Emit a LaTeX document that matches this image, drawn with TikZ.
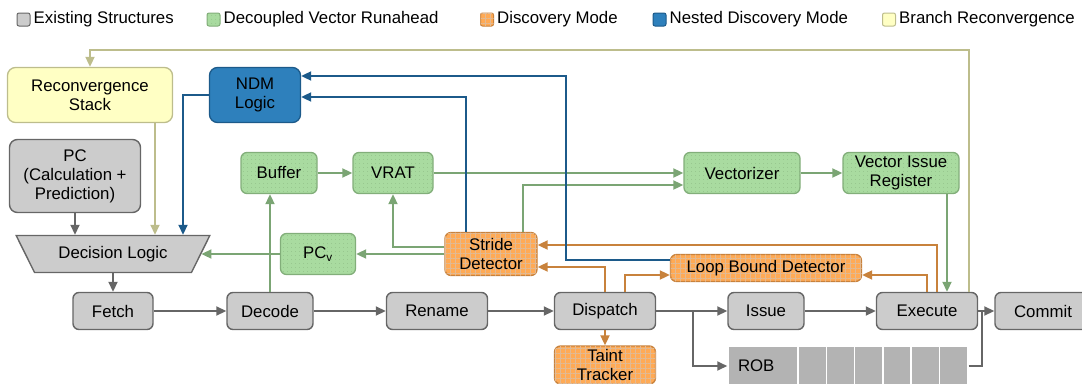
\documentclass[tikz,border=0pt]{standalone}
\usepackage{fontspec}
\setmainfont{Liberation Sans}
\usepackage{tikz}
\usetikzlibrary{arrows.meta,positioning,shapes.geometric,patterns.meta}

\definecolor{grayfill}{HTML}{CCCCCC}
\definecolor{graydraw}{HTML}{666666}
\definecolor{grnfill}{HTML}{A9DBA0}
\definecolor{grndraw}{HTML}{82AE7A}
\definecolor{orgfill}{HTML}{FFAA55}
\definecolor{orgdraw}{HTML}{C8823C}
\definecolor{blufill}{HTML}{2E80BC}
\definecolor{bludraw}{HTML}{1C5A8A}
\definecolor{ylwfill}{HTML}{FFFFC4}
\definecolor{ylwdraw}{HTML}{BDBD8C}
\definecolor{robfill}{HTML}{B3B3B3}

\begin{document}
\begin{tikzpicture}[x=1pt,y=-1pt,>={Triangle[length=10pt,width=9pt]},
		font=\fontsize{16.8pt}{19pt}\selectfont]
		\tikzstyle{every node}=[align=center,inner sep=2pt]
		\tikzstyle{exist}=[draw=graydraw,fill=grayfill,rounded corners=6pt,line width=1.4pt]
		\tikzstyle{dvr}=[draw=grndraw,fill=grnfill,rounded corners=6pt,line width=1.3pt,
			postaction={pattern color=grndraw,pattern={Dots[distance=4pt,radius=0.4pt]}}]
		\tikzstyle{disc}=[draw=orgdraw,fill=orgfill,rounded corners=6pt,line width=1.3pt,
			postaction={pattern color=orgdraw!55,pattern={Hatch[distance=5pt,line width=0.35pt]}}]
		\tikzstyle{ndmst}=[draw=bludraw,fill=blufill,rounded corners=8pt,line width=1.3pt]
		\tikzstyle{brst}=[draw=ylwdraw,fill=ylwfill,rounded corners=8pt,line width=1.3pt]
		\tikzstyle{legbox}=[minimum size=13pt,inner sep=0pt,rounded corners=2pt,line width=1pt]
		\tikzstyle{legtext}=[inner sep=0pt]
		\tikzstyle{robcell}=[rectangle,fill=robfill,draw=white,line width=1.5pt,minimum height=40pt,inner sep=0pt]
		\tikzstyle{grayln}=[draw=graydraw,line width=1.8pt]
		\tikzstyle{grnln}=[draw=grndraw!95!black,line width=1.8pt]
		\tikzstyle{orgln}=[draw=orgdraw,line width=1.8pt]
		\tikzstyle{bluln}=[draw=bludraw,line width=1.8pt]
		\tikzstyle{ylwln}=[draw=ylwdraw,line width=1.8pt]
		
		\useasboundingbox (0,0) rectangle (1082,383);
		
		\node[exist,legbox] (lgex) at (23.5,19.5) {};
		\node[legtext,right=3pt of lgex] {Existing Structures};
		\node[dvr,legbox] (lgdvr) at (213.5,19.5) {};
		\node[legtext,right=3pt of lgdvr] {Decoupled Vector Runahead};
		\node[disc,legbox] (lgdisc) at (487,19.5) {};
		\node[legtext,right=3pt of lgdisc] {Discovery Mode};
		\node[ndmst,legbox] (lgndm) at (659.5,19.5) {};
		\node[legtext,right=3pt of lgndm] {Nested Discovery Mode};
		\node[brst,legbox] (lgbr) at (889,19.5) {};
		\node[legtext,right=3pt of lgbr] {Branch Reconvergence};
		
		\node[brst,minimum width=165pt,minimum height=55pt] (recstack) at (90,95) {Reconvergence\\Stack};
		\node[ndmst,minimum width=91pt,minimum height=55pt] (ndm) at (255,95) {NDM\\Logic};
		\node[exist,rounded corners=8pt,minimum width=131pt,minimum height=73pt] (pc) at (75,176) {PC\\(Calculation +\\Prediction)};
		\node[exist,sharp corners,trapezium,trapezium angle=56,shape border rotate=180,trapezium stretches=true,
			minimum width=194pt,minimum height=37pt] (dl) at (113,254) {Decision Logic};
		
		\node[exist,minimum width=80pt,minimum height=37pt] (fetch) at (113,311) {Fetch};
		\node[exist,minimum width=86pt,minimum height=37pt] (decode) at (270,311) {Decode};
		\node[exist,minimum width=101pt,minimum height=37pt] (rename) at (437,311) {Rename};
		\node[exist,minimum width=101pt,minimum height=37pt] (dispatch) at (605,311) {Dispatch};
		\node[exist,minimum width=76pt,minimum height=37pt] (issue) at (766,311) {Issue};
		\node[exist,minimum width=101pt,minimum height=37pt] (execute) at (927,311) {Execute};
		\node[exist,minimum width=96pt,minimum height=37pt] (commit) at (1043,311) {Commit};
		
		\node[robcell,minimum width=70pt,text width=50pt,align=left] (rob) at (763,366) {ROB};
		\foreach \i in {1,...,6}
			\node[robcell,minimum width=28.3pt] (rob\i) at ({798+28.3*\i-14.15},366) {};
		
		\node[disc,minimum width=101pt,minimum height=38pt] (taint) at (605,365) {Taint\\Tracker};
		
		\node[dvr,minimum width=76pt,minimum height=41pt] (buffer) at (279,173) {Buffer};
		\node[dvr,minimum width=80pt,minimum height=41pt] (vrat) at (393,173) {VRAT};
		\node[dvr,minimum width=116pt,minimum height=41pt] (vectorizer) at (742,173) {Vectorizer};
		\node[dvr,minimum width=116pt,minimum height=41pt] (vir) at (901,173) {Vector Issue\\Register};
		\node[dvr,minimum width=75pt,minimum height=41pt] (pcv) at (318,254) {PC\textsubscript{v}};
		
		\node[disc,minimum width=92pt,minimum height=43pt] (stride) at (491,254) {Stride\\Detector};
		\node[disc,minimum width=191pt,minimum height=27pt] (loopb) at (766,268) {Loop Bound Detector};
		
		
		\draw[->,grayln] (pc.south) -- (pc.south |- dl.north);
		\draw[->,grayln] (dl.south) -- (fetch.north);
		\draw[->,grayln] (fetch) -- (decode);
		\draw[->,grayln] (decode) -- (rename);
		\draw[->,grayln] (rename) -- (dispatch);
		\draw[->,grayln] (dispatch) -- (issue);
		\draw[->,grayln] (issue) -- (execute);
		\draw[->,grayln] (execute) -- (commit);
		\draw[->,grayln] (dispatch.east) -- ++(37,0) |- (rob.west);
		\draw[grayln] (rob6.east) -| ([xshift=3.5pt]execute.east);
		
		\draw[->,grnln] (buffer) -- (vrat);
		\draw[->,grnln] (vrat) -- (vectorizer);
		\draw[->,grnln] (vectorizer) -- (vir);
		\draw[->,grnln] (stride) -- (pcv);
		\draw[->,grnln] (pcv) -- (dl);
		\draw[->,grnln] (decode.north) -- (decode.north |- buffer.south);
		\draw[->,grnln] ([yshift=7pt]stride.west) -| (vrat.south);
		\draw[->,grnln] ([xshift=32pt]stride.north) |- ([yshift=-12pt]vectorizer.west);
		\draw[->,grnln] ([xshift=46pt]vir.south) -- ([xshift=46pt]vir.south |- execute.north);
		
		\draw[->,orgln] (dispatch) -- (taint);
		\draw[->,orgln] (dispatch.north) |- ([yshift=-13pt]stride.east);
		\draw[->,orgln] ([xshift=20pt]dispatch.north) |- ([yshift=-7pt]loopb.west);
		\draw[->,orgln] (execute.north) |- ([yshift=-7pt]loopb.east);
		\draw[->,orgln] ([xshift=10pt]execute.north) |- ([yshift=9pt]stride.east);
		
		\draw[->,bluln] (ndm.west) -| ([xshift=70pt]dl.north);
		\draw[->,bluln] ([xshift=-25pt]stride.north) |- ([yshift=-2pt]ndm.east);
		\draw[->,bluln] ([yshift=8pt]loopb.west) -- ++(-104,0) |- ([yshift=19pt]ndm.east);
		
		\draw[->,ylwln] ([xshift=65pt]recstack.south) -- ([xshift=65pt]recstack.south |- dl.north);
		\draw[->,ylwln] ([xshift=42pt]execute.north) -- ++(0,-242) -| (recstack.north);
\end{tikzpicture}
\end{document}
